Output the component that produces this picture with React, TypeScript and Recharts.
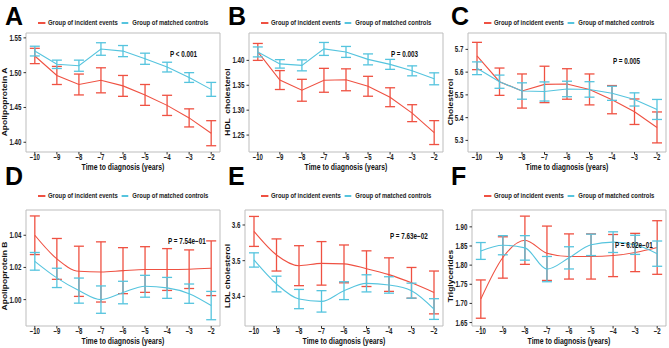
import { LineChart, Line, XAxis, YAxis, ErrorBar, ReferenceArea } from "recharts";

const RED = "#EF5142";
const BLUE = "#55C4DE";
const FONT = '"Liberation Sans", Arial, sans-serif';
// the figure is squeezed horizontally, so text is drawn condensed
const K = 0.74;

const years = [-10, -9, -8, -7, -6, -5, -4, -3, -2];

// A: Apolipoprotein A
const apoAIncident = [1.524, 1.496, 1.483, 1.489, 1.481, 1.468, 1.453, 1.435, 1.413];
const apoAIncidentErr = [0.011, 0.013, 0.015, 0.018, 0.015, 0.015, 0.0145, 0.013, 0.018];
const apoAControl = [1.531, 1.512, 1.51, 1.534, 1.531, 1.52, 1.508, 1.493, 1.476];
const apoAControlErr = [0.007, 0.006, 0.008, 0.009, 0.008, 0.008, 0.007, 0.007, 0.01];
const apoATicks = [1.4, 1.45, 1.5, 1.55];

// B: HDL cholesterol
const hdlIncident = [1.417, 1.3605, 1.34, 1.36, 1.361, 1.348, 1.326, 1.294, 1.255];
const hdlIncidentErr = [0.017, 0.019, 0.022, 0.024, 0.022, 0.02, 0.019, 0.017, 0.024];
const hdlControl = [1.417, 1.393, 1.39, 1.423, 1.417, 1.402, 1.392, 1.379, 1.363];
const hdlControlErr = [0.01, 0.0085, 0.011, 0.013, 0.011, 0.011, 0.01, 0.01, 0.012];
const hdlTicks = [1.25, 1.3, 1.35, 1.4];

// C: Cholesterol
const cholIncident = [5.671, 5.558, 5.517, 5.546, 5.548, 5.524, 5.479, 5.426, 5.357];
const cholIncidentErr = [0.06, 0.06, 0.075, 0.08, 0.067, 0.068, 0.062, 0.056, 0.068];
const cholControl = [5.617, 5.558, 5.517, 5.515, 5.526, 5.524, 5.507, 5.48, 5.436];
const cholControlErr = [0.028, 0.029, 0.036, 0.042, 0.034, 0.034, 0.031, 0.029, 0.044];
const cholTicks = [5.3, 5.4, 5.5, 5.6, 5.7];

// D: Apolipoprotein B
const apoBIncident = [1.04, 1.0253, 1.0176, 1.0172, 1.018, 1.0187, 1.0187, 1.0189, 1.0195];
const apoBIncidentErr = [0.012, 0.0127, 0.0156, 0.0187, 0.0143, 0.0142, 0.013, 0.012, 0.017];
const apoBControl = [1.0238, 1.0135, 1.0056, 1.0, 1.0044, 1.0083, 1.0073, 1.0037, 0.9963];
const apoBControlErr = [0.0055, 0.006, 0.0078, 0.0085, 0.007, 0.0068, 0.0065, 0.006, 0.0088];
const apoBTicks = [1.0, 1.02, 1.04];

// E: LDL cholesterol
const ldlIncident = [3.582, 3.516, 3.486, 3.4925, 3.491, 3.4776, 3.461, 3.438, 3.411];
const ldlIncidentErr = [0.042, 0.045, 0.056, 0.061, 0.053, 0.05, 0.047, 0.043, 0.06];
const ldlControl = [3.502, 3.4346, 3.3925, 3.386, 3.416, 3.4365, 3.432, 3.416, 3.3645];
const ldlControlErr = [0.02, 0.022, 0.027, 0.03, 0.025, 0.024, 0.023, 0.021, 0.029];
const ldlTicks = [3.4, 3.5, 3.6];

// F: Triglycerides
const tgIncident = [1.7113, 1.82, 1.865, 1.831, 1.8226, 1.8226, 1.825, 1.833, 1.846];
const tgIncidentErr = [0.05, 0.054, 0.063, 0.071, 0.059, 0.059, 0.055, 0.05, 0.07];
const tgControl = [1.837, 1.852, 1.845, 1.7896, 1.819, 1.853, 1.86, 1.853, 1.83];
const tgControlErr = [0.022, 0.025, 0.032, 0.033, 0.029, 0.028, 0.027, 0.025, 0.033];
const tgTicks = [1.65, 1.7, 1.75, 1.8, 1.85, 1.9];

const panels = [
  { letter: "A", yLabel: "Apolipoprotein A", inc: apoAIncident, incErr: apoAIncidentErr, ctl: apoAControl, ctlErr: apoAControlErr, ticks: apoATicks, domain: [1.386, 1.557], digits: 2, p: "P < 0.001", px: 170, py: 54, curve: "linear", yw: 26 },
  { letter: "B", yLabel: "HDL  cholesterol", inc: hdlIncident, incErr: hdlIncidentErr, ctl: hdlControl, ctlErr: hdlControlErr, ticks: hdlTicks, domain: [1.216, 1.455], digits: 2, p: "P = 0.003", px: 168, py: 54, curve: "linear", yw: 26 },
  { letter: "C", yLabel: "Cholesterol", inc: cholIncident, incErr: cholIncidentErr, ctl: cholControl, ctlErr: cholControlErr, ticks: cholTicks, domain: [5.249, 5.772], digits: 1, p: "P = 0.005", px: 167, py: 61, curve: "linear", yw: 22 },
  { letter: "D", yLabel: "Apolipoprotein B", inc: apoBIncident, incErr: apoBIncidentErr, ctl: apoBControl, ctlErr: apoBControlErr, ticks: apoBTicks, domain: [0.9836, 1.0557], digits: 2, p: "P = 7.54e\u221201", px: 168, py: 67, curve: "monotone", yw: 26 },
  { letter: "E", yLabel: "LDL cholesterol", inc: ldlIncident, incErr: ldlIncidentErr, ctl: ldlControl, ctlErr: ldlControlErr, ticks: ldlTicks, domain: [3.317, 3.642], digits: 1, p: "P = 7.63e\u221202", px: 167, py: 62, curve: "monotone", yw: 22 },
  { letter: "F", yLabel: "Triglycerides", inc: tgIncident, incErr: tgIncidentErr, ctl: tgControl, ctlErr: tgControlErr, ticks: tgTicks, domain: [1.641, 1.944], digits: 2, p: "P = 6.02e\u221201", px: 169, py: 71, curve: "monotone", yw: 26 },
];

const X_DOMAIN = [-10.4, -1.6];
const W = 223;
const H = 174;

function XTick(props: any) {
  const { x, y, payload } = props;
  return (
    <g transform={`translate(${x},${y}) scale(${K},1)`}>
      <text textAnchor="middle" dy={5.2} fontSize={8.2} fontWeight={700} fontFamily={FONT} fill="#222">
        {String(payload.value).replace("-", "\u2212")}
      </text>
    </g>
  );
}

function makeYTick(digits: number) {
  return (props: any) => {
    const { x, y, payload } = props;
    return (
      <g transform={`translate(${x},${y}) scale(${K},1)`}>
        <text textAnchor="end" dy={3} fontSize={8.4} fontWeight={700} fontFamily={FONT} fill="#222">
          {Number(payload.value).toFixed(digits)}
        </text>
      </g>
    );
  };
}

function XTitle(props: any) {
  const vb = props.viewBox;
  return (
    <g transform={`translate(${vb.x + vb.width / 2},${vb.y + 18.2}) scale(${K},1)`}>
      <text textAnchor="middle" fontSize={9.3} fontWeight={700} fontFamily={FONT} fill="#111">
        Time to diagnosis (years)
      </text>
    </g>
  );
}

function makeYTitle(label: string) {
  return () => (
    <g transform={`translate(7.3,102) scale(${K},1) rotate(-90)`}>
      <text textAnchor="middle" fontSize={8.5} fontWeight={700} fontFamily={FONT} fill="#111" style={{ whiteSpace: "pre" }}>
        {label}
      </text>
    </g>
  );
}

function Panel({ cfg, row }: { cfg: (typeof panels)[number]; row: number }) {
  const data = years.map((year, i) => ({
    year,
    inc: cfg.inc[i],
    incErr: cfg.incErr[i],
    ctl: cfg.ctl[i],
    ctlErr: cfg.ctlErr[i],
  }));
  const top = row === 0 ? 33 : 36;

  return (
    <div style={{ position: "relative", width: W, height: H }}>
      <LineChart width={W} height={H} data={data} margin={{ top, right: 3, left: 0, bottom: 0 }}>
        <XAxis
          dataKey="year"
          type="number"
          domain={X_DOMAIN}
          ticks={years}
          interval={0}
          allowDataOverflow
          axisLine={false}
          tickLine={{ stroke: "#333" }}
          tickSize={2.5}
          tickMargin={0}
          tick={XTick}
          height={22}
          label={XTitle}
        />
        <YAxis
          type="number"
          domain={cfg.domain}
          ticks={cfg.ticks}
          interval={0}
          allowDataOverflow
          width={cfg.yw}
          axisLine={false}
          tickLine={{ stroke: "#333" }}
          tickSize={2.5}
          tick={makeYTick(cfg.digits)}
          label={makeYTitle(cfg.yLabel)}
        />
        <ReferenceArea
          x1={X_DOMAIN[0]}
          x2={X_DOMAIN[1]}
          y1={cfg.domain[0]}
          y2={cfg.domain[1]}
          fill="none"
          stroke="#BDBDBD"
          strokeWidth={1}
          ifOverflow="visible"
        />
        <Line
          type={cfg.curve as "linear" | "monotone"}
          dataKey="inc"
          name="Group of incident events"
          stroke={RED}
          strokeWidth={1.1}
          dot={false}
          isAnimationActive={false}
        >
          <ErrorBar dataKey="incErr" width={5} stroke={RED} strokeWidth={1.3} direction="y" />
        </Line>
        <Line
          type={cfg.curve as "linear" | "monotone"}
          dataKey="ctl"
          name="Group of matched controls"
          stroke={BLUE}
          strokeWidth={1.1}
          dot={false}
          isAnimationActive={false}
        >
          <ErrorBar dataKey="ctlErr" width={5} stroke={BLUE} strokeWidth={1.3} direction="y" />
        </Line>
      </LineChart>

      <div
        style={{
          position: "absolute",
          left: 5,
          top: row === 0 ? 4 : -10,
          fontFamily: FONT,
          fontWeight: 700,
          fontSize: 25,
          lineHeight: "25px",
          color: "#000",
        }}
      >
        {cfg.letter}
      </div>

      <div
        style={{
          position: "absolute",
          left: 38,
          top: row === 0 ? 18 : 17,
          transform: `scaleX(${K})`,
          transformOrigin: "left center",
          display: "flex",
          alignItems: "center",
          whiteSpace: "nowrap",
          fontFamily: FONT,
          fontWeight: 700,
          fontSize: 8,
          lineHeight: "10px",
          color: "#222",
        }}
      >
        <span style={{ display: "inline-block", width: 9.5, height: 1.3, background: RED, marginRight: 4 }} />
        <span style={{ marginRight: 5.4 }}>Group of incident events</span>
        <span style={{ display: "inline-block", width: 9, height: 1.3, background: BLUE, marginRight: 5.4 }} />
        <span>Group of matched controls</span>
      </div>

      <div
        style={{
          position: "absolute",
          left: cfg.px,
          top: cfg.py - 5,
          transform: `scaleX(${K})`,
          transformOrigin: "left center",
          fontFamily: FONT,
          fontWeight: 700,
          fontSize: 8.5,
          lineHeight: "10px",
          color: "#111",
          whiteSpace: "nowrap",
        }}
      >
        {cfg.p}
      </div>
    </div>
  );
}

export default function App() {
  return (
    <div
      style={{
        position: "absolute",
        left: 0,
        top: 0,
        width: 669,
        height: 348,
        background: "#fff",
        display: "grid",
        gridTemplateColumns: `${W}px ${W}px ${W}px`,
        gridTemplateRows: `${H}px ${H}px`,
      }}
    >
      {panels.map((cfg, i) => (
        <Panel key={cfg.letter} cfg={cfg} row={i < 3 ? 0 : 1} />
      ))}
    </div>
  );
}
